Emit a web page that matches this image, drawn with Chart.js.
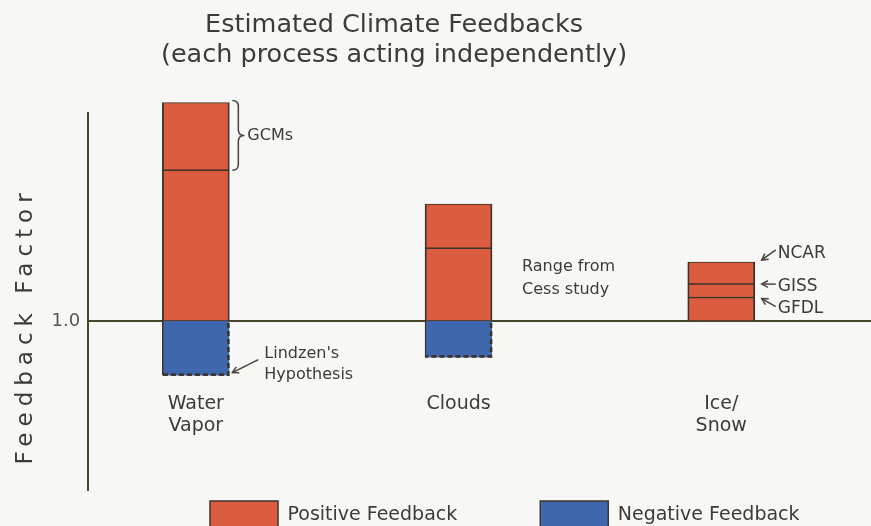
<!DOCTYPE html>
<html><head><meta charset="utf-8">
<script src="https://cdn.jsdelivr.net/npm/chart.js@4.4.0/dist/chart.umd.min.js"></script>
<style>
html,body{margin:0;padding:0;background:#f7f7f5;}
#wrap{position:relative;width:871px;height:526px;}
</style></head><body>
<div id="wrap"><canvas id="c" width="871" height="526"></canvas></div>
<script>
// ---------- data ----------
const titleLines = ["Estimated Climate Feedbacks", "(each process acting independently)"];
const yAxisLabel = "Feedback Factor";
const categories = [["Water", "Vapor"], ["Clouds"], ["Ice/", "Snow"]];
const categoryPositions = [1, 2, 3];
const yTickValues = [1.0];
const yTickLabels = ["1.0"];
const baseline = 1.0;
const positiveStep1 = [1.58, 1.28, 1.09];   // lower red segment top (Ice: GFDL)
const positiveStep2 = [1.84, 1.45, 1.142];  // upper red segment top (Water: GCMs, Ice: GISS)
const positiveStep3 = [null, null, 1.227];  // Ice: NCAR
const negativeBottom = [0.79, 0.86, null];  // blue (negative feedback) bottoms
const legendLabels = ["Positive Feedback", "Negative Feedback"];
const gcmLabel = "GCMs";
const lindzenLabel = ["Lindzen's", "Hypothesis"];
const cessLabel = ["Range from", "Cess study"];
const iceModelLabels = ["GFDL", "GISS", "NCAR"];

// ---------- styles ----------
const FONT = "'DejaVu Sans', 'Liberation Sans', sans-serif";
const TEXT = '#3a3d36';
const DARK = '#3b342c';
const AXIS = '#48452f';
const RED = '#db5c3e';
const BLUE = '#3e67ad';

const baseArr = categories.map(() => baseline);
function floating(lo, hi) {
  return categoryPositions.map((x, i) =>
    (lo[i] == null || hi[i] == null) ? null : {x: x, y: [lo[i], hi[i]]}
  ).filter(Boolean);
}
const redBorder = {top: 1.1, bottom: 1.1, left: 1.8, right: 1.8};
const common = {grouped: false, barThickness: 67, borderSkipped: false, clip: false};

const datasets = [
  Object.assign({label: legendLabels[0], data: floating(baseArr, positiveStep1),
    backgroundColor: RED, borderColor: DARK, borderWidth: redBorder}, common),
  Object.assign({label: legendLabels[0] + ' (range)', data: floating(positiveStep1, positiveStep2),
    backgroundColor: RED, borderColor: DARK, borderWidth: redBorder}, common),
  Object.assign({label: legendLabels[0] + ' (range 2)', data: floating(positiveStep2, positiveStep3),
    backgroundColor: RED, borderColor: DARK, borderWidth: redBorder}, common),
  Object.assign({label: legendLabels[1], data: floating(negativeBottom, baseArr),
    backgroundColor: BLUE, borderColor: DARK, borderWidth: {left: 1.5, top: 0, right: 0, bottom: 0}}, common)
];

// ---------- layout helpers (title/legend placement) ----------
const placement = {
  id: 'placement',
  afterLayout(chart) {
    const T = chart.titleBlock;
    if (T) { const w = T.right - T.left; const cx = 394; T.left = cx - w / 2; T.right = T.left + w; }
    const L = chart.legend;
    if (L) {
      const pad = L.options.labels.padding;
      const w = L.right - L.left;
      L.left = 210 - pad; L.right = L.left + w;
      L.top = 501 - pad; L.bottom = chart.height + 20;
      L.height = L.bottom - L.top;
    }
  }
};

function arrow(ctx, x1, y1, x2, y2) {
  ctx.beginPath(); ctx.moveTo(x1, y1); ctx.lineTo(x2, y2); ctx.stroke();
  const a = Math.atan2(y2 - y1, x2 - x1), len = 7, sp = 0.5;
  ctx.beginPath();
  ctx.moveTo(x2 - len * Math.cos(a - sp), y2 - len * Math.sin(a - sp));
  ctx.lineTo(x2, y2);
  ctx.lineTo(x2 - len * Math.cos(a + sp), y2 - len * Math.sin(a + sp));
  ctx.stroke();
}

const annotations = {
  id: 'annotations',
  afterDatasetsDraw(chart) {
    const {ctx} = chart;
    const x = chart.scales.x, y = chart.scales.y;
    const half = chart.getDatasetMeta(0).data[0].width / 2;
    ctx.save();
    // dashed edges of negative bars
    chart.getDatasetMeta(3).data.forEach(el => {
      const p = el.getProps(['x', 'y', 'base', 'width'], true);
      const l = p.x - p.width / 2, r = p.x + p.width / 2;
      const t = Math.min(p.y, p.base), b = Math.max(p.y, p.base);
      ctx.strokeStyle = DARK; ctx.lineWidth = 2.6; ctx.setLineDash([5, 3]);
      ctx.beginPath(); ctx.moveTo(r - 1, t + 2); ctx.lineTo(r - 1, b - 1); ctx.lineTo(l, b - 1); ctx.stroke();
    });
    ctx.setLineDash([]);
    ctx.strokeStyle = '#45433d'; ctx.lineWidth = 1.5;
    ctx.fillStyle = TEXT;
    ctx.textAlign = 'left'; ctx.textBaseline = 'middle';
    ctx.font = '16px ' + FONT;
    // GCMs brace
    {
      const xr = x.getPixelForValue(categoryPositions[0]) + half + 3;
      const yt = y.getPixelForValue(positiveStep2[0]) - 2;
      const yb = y.getPixelForValue(positiveStep1[0]);
      const mid = (yt + yb) / 2;
      ctx.beginPath();
      ctx.moveTo(xr, yt);
      ctx.quadraticCurveTo(xr + 6, yt, xr + 6, yt + 6);
      ctx.lineTo(xr + 6, mid - 6);
      ctx.quadraticCurveTo(xr + 6, mid, xr + 12, mid);
      ctx.quadraticCurveTo(xr + 6, mid, xr + 6, mid + 6);
      ctx.lineTo(xr + 6, yb - 6);
      ctx.quadraticCurveTo(xr + 6, yb, xr, yb);
      ctx.stroke();
      ctx.fillText(gcmLabel, xr + 15, mid);
    }
    // Lindzen's Hypothesis
    {
      const xr = x.getPixelForValue(categoryPositions[0]) + half;
      const yb = y.getPixelForValue(negativeBottom[0]);
      ctx.fillText(lindzenLabel[0], xr + 35, yb - 22);
      ctx.fillText(lindzenLabel[1], xr + 35, yb - 1);
      arrow(ctx, xr + 29, yb - 16, xr + 3, yb - 3);
    }
    // Range from Cess study
    {
      const xr = x.getPixelForValue(categoryPositions[1]) + half;
      const yl = y.getPixelForValue(positiveStep1[1]);
      ctx.fillText(cessLabel[0], xr + 30, yl + 19);
      ctx.fillText(cessLabel[1], xr + 30, yl + 42);
    }
    // Ice/Snow model labels
    {
      ctx.font = '17px ' + FONT;
      const xr = x.getPixelForValue(categoryPositions[2]) + half;
      const yF = y.getPixelForValue(positiveStep1[2]);
      const yG = y.getPixelForValue(positiveStep2[2]);
      const yN = y.getPixelForValue(positiveStep3[2]);
      arrow(ctx, xr + 21, yN - 12, xr + 7, yN - 2);
      ctx.fillText(iceModelLabels[2], xr + 23, yN - 8);
      arrow(ctx, xr + 21, yG, xr + 7, yG);
      ctx.fillText(iceModelLabels[1], xr + 23, yG + 2);
      arrow(ctx, xr + 21, yF + 9, xr + 7, yF + 1);
      ctx.fillText(iceModelLabels[0], xr + 23, yF + 11);
    }
    ctx.restore();
  },
  afterDraw(chart) {
    const {ctx} = chart;
    const y = chart.scales.y;
    ctx.save();
    ctx.fillStyle = TEXT;
    ctx.font = '23px ' + FONT;
    try { ctx.letterSpacing = '6px'; } catch (e) {}
    ctx.translate(26, y.getPixelForValue(baseline) + 5);
    ctx.rotate(-Math.PI / 2);
    ctx.textAlign = 'center'; ctx.textBaseline = 'middle';
    ctx.fillText(yAxisLabel, 0, 0);
    ctx.restore();
  }
};

new Chart(document.getElementById('c'), {
  type: 'bar',
  data: {datasets},
  plugins: [placement, annotations],
  options: {
    responsive: false,
    animation: false,
    layout: {padding: {left: 43.5, right: 0, top: 0, bottom: 0}},
    plugins: {
      tooltip: {enabled: false},
      title: {
        display: true, text: titleLines, color: TEXT,
        font: {family: FONT, size: 25.5, weight: 'normal', lineHeight: 30 / 25.5},
        padding: {top: 10, bottom: 43}
      },
      legend: {
        position: 'bottom', align: 'start', maxHeight: 36,
        labels: {
          boxWidth: 68, boxHeight: 28, padding: 83, color: TEXT,
          font: {family: FONT, size: 19},
          filter: (item) => legendLabels.includes(item.text),
          generateLabels: (chart) => chart.data.datasets.map((d, i) => ({
            text: d.label, fillStyle: d.backgroundColor, strokeStyle: DARK,
            lineWidth: 1.5, datasetIndex: i, hidden: false, fontColor: TEXT
          }))
        }
      }
    },
    scales: {
      x: {
        type: 'linear', min: 0.59, max: 3.57, offset: false,
        position: {y: 0.722},
        grid: {display: false, drawTicks: false},
        border: {display: false},
        afterBuildTicks: (s) => { s.ticks = categoryPositions.map(v => ({value: v})); },
        afterFit: (s) => { s.paddingLeft = 0; s.paddingRight = 0; },
        ticks: {
          callback: (v) => categories[categoryPositions.indexOf(v)],
          font: {family: FONT, size: 19, lineHeight: 1.15}, color: TEXT,
          padding: 0, maxRotation: 0, autoSkip: false
        }
      },
      y: {
        min: 0.35, max: 1.8,
        afterBuildTicks: (s) => { s.ticks = yTickValues.map(v => ({value: v})); },
        ticks: {
          callback: (v) => yTickLabels[yTickValues.indexOf(v)],
          font: {family: FONT, size: 18}, color: '#55574f', padding: 8
        },
        grid: {color: AXIS, lineWidth: 2, drawTicks: false},
        border: {color: AXIS, width: 2}
      }
    }
  }
});
</script>
</body></html>
